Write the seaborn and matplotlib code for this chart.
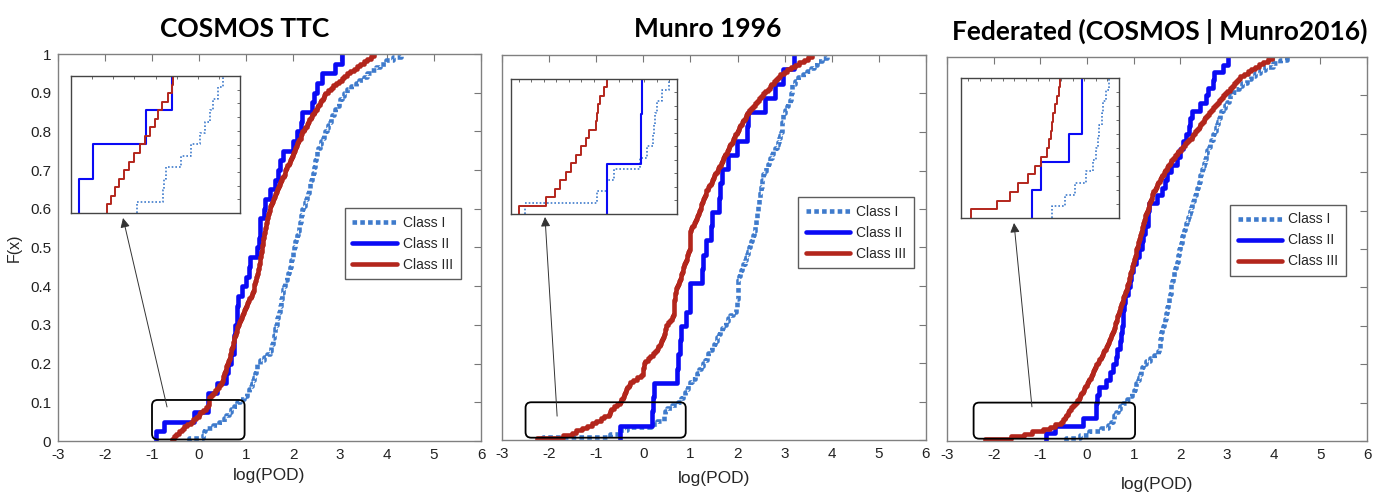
import numpy as np
import matplotlib
matplotlib.use("Agg")
import matplotlib.pyplot as plt
import seaborn as sns
from matplotlib.patches import FancyBboxPatch
from matplotlib.ticker import MultipleLocator

# ---------------- data ----------------
titles = ["COSMOS TTC", "Munro 1996", "Federated (COSMOS | Munro2016)"]
class_names = ["Class I", "Class II", "Class III"]
x_label = "log(POD)"
y_label = "F(x)"
x_ticks = [-3, -2, -1, 0, 1, 2, 3, 4, 5, 6]
y_ticks = [0, 0.1, 0.2, 0.3, 0.4, 0.5, 0.6, 0.7, 0.8, 0.9, 1]
y_tick_labels = ["0", "0.1", "0.2", "0.3", "0.4", "0.5", "0.6", "0.7", "0.8", "0.9", "1"]

# log(POD) samples per class (read from the empirical CDFs)
cosmos_class1 = [-0.22, 0.09, 0.1, 0.12, 0.3, 0.42,
                 0.53, 0.58, 0.64, 0.68, 0.74, 0.8,
                 0.88, 0.96, 1.02, 1.07, 1.1, 1.13,
                 1.15, 1.17, 1.19, 1.21, 1.23, 1.24,
                 1.3, 1.38, 1.45, 1.5, 1.53, 1.56,
                 1.57, 1.58, 1.6, 1.61, 1.62, 1.63,
                 1.65, 1.67, 1.69, 1.7, 1.72, 1.73,
                 1.74, 1.75, 1.76, 1.77, 1.79, 1.8,
                 1.82, 1.84, 1.87, 1.89, 1.91, 1.93,
                 1.95, 1.96, 1.98, 1.99, 2.0, 2.02,
                 2.04, 2.05, 2.07, 2.09, 2.1, 2.12,
                 2.13, 2.15, 2.16, 2.17, 2.19, 2.2,
                 2.22, 2.25, 2.27, 2.3, 2.32, 2.34,
                 2.36, 2.37, 2.39, 2.41, 2.42, 2.44,
                 2.45, 2.46, 2.47, 2.48, 2.5, 2.51,
                 2.54, 2.57, 2.6, 2.63, 2.66, 2.69,
                 2.72, 2.75, 2.78, 2.81, 2.84, 2.87,
                 2.9, 2.94, 2.97, 3.01, 3.05, 3.08,
                 3.15, 3.24, 3.33, 3.41, 3.5, 3.58,
                 3.67, 3.77, 3.86, 3.98, 4.12, 4.29]
cosmos_class2 = [-0.91, -0.74, -0.11, 0.19, 0.2, 0.39, 0.58, 0.62, 0.68, 0.74,
                 0.74, 0.76, 0.81, 0.81, 0.82, 0.92, 1.0, 1.06, 1.08, 1.24,
                 1.27, 1.29, 1.3, 1.38, 1.41, 1.5, 1.62, 1.68, 1.72, 1.79,
                 2.0, 2.09, 2.16, 2.2, 2.41, 2.44, 2.51, 2.62, 2.9, 3.05]
cosmos_class3 = [-0.57, -0.53, -0.48, -0.43, -0.37, -0.31, -0.25, -0.18,
                 -0.12, -0.06, -0.01, 0.03, 0.08, 0.15, 0.19, 0.21,
                 0.21, 0.22, 0.25, 0.29, 0.33, 0.38, 0.42, 0.46,
                 0.48, 0.5, 0.52, 0.54, 0.55, 0.57, 0.58, 0.6,
                 0.62, 0.63, 0.65, 0.66, 0.68, 0.69, 0.71, 0.72,
                 0.73, 0.74, 0.75, 0.77, 0.78, 0.8, 0.81, 0.83,
                 0.85, 0.87, 0.9, 0.92, 0.94, 0.96, 0.98, 1.0,
                 1.03, 1.05, 1.07, 1.1, 1.12, 1.14, 1.16, 1.17,
                 1.18, 1.2, 1.21, 1.22, 1.23, 1.25, 1.26, 1.27,
                 1.28, 1.29, 1.3, 1.3, 1.31, 1.32, 1.33, 1.34,
                 1.35, 1.36, 1.37, 1.37, 1.38, 1.39, 1.4, 1.41,
                 1.42, 1.43, 1.44, 1.45, 1.46, 1.47, 1.49, 1.5,
                 1.52, 1.54, 1.56, 1.58, 1.6, 1.62, 1.64, 1.66,
                 1.68, 1.7, 1.73, 1.75, 1.77, 1.8, 1.82, 1.84,
                 1.86, 1.88, 1.91, 1.93, 1.95, 1.98, 2.0, 2.02,
                 2.04, 2.07, 2.09, 2.11, 2.13, 2.16, 2.18, 2.2,
                 2.23, 2.26, 2.29, 2.32, 2.35, 2.38, 2.41, 2.44,
                 2.47, 2.5, 2.53, 2.57, 2.6, 2.63, 2.66, 2.69,
                 2.74, 2.8, 2.86, 2.92, 2.98, 3.04, 3.09, 3.15,
                 3.22, 3.29, 3.36, 3.43, 3.5, 3.57, 3.65, 3.72]

munro_class1 = [-2.12, -0.7, -0.5, -0.35, 0.16, 0.3,
                0.43, 0.44, 0.46, 0.5, 0.6, 0.74,
                0.8, 0.85, 0.88, 0.92, 0.95, 0.99,
                1.04, 1.09, 1.14, 1.18, 1.23, 1.27,
                1.31, 1.35, 1.38, 1.42, 1.46, 1.49,
                1.53, 1.56, 1.6, 1.63, 1.67, 1.7,
                1.75, 1.8, 1.85, 1.9, 1.96, 1.98,
                1.99, 1.99, 2.0, 2.0, 2.0, 2.0,
                2.01, 2.02, 2.04, 2.05, 2.07, 2.09,
                2.12, 2.15, 2.18, 2.2, 2.22, 2.24,
                2.26, 2.28, 2.3, 2.32, 2.34, 2.37,
                2.38, 2.39, 2.4, 2.41, 2.42, 2.43,
                2.44, 2.45, 2.46, 2.47, 2.48, 2.49,
                2.5, 2.51, 2.52, 2.53, 2.54, 2.56,
                2.6, 2.64, 2.67, 2.69, 2.73, 2.76,
                2.79, 2.83, 2.86, 2.88, 2.91, 2.93,
                2.94, 2.95, 2.95, 2.96, 2.96, 2.97,
                3.0, 3.04, 3.08, 3.12, 3.13, 3.14,
                3.15, 3.15, 3.16, 3.22, 3.29, 3.38,
                3.47, 3.55, 3.62, 3.68, 3.8, 3.9]
munro_class2 = [-0.5, 0.18, 0.2, 0.22, 0.71, 0.74, 0.78, 0.81, 0.9, 0.98,
                0.99, 1.24, 1.26, 1.34, 1.43, 1.45, 1.6, 1.63, 1.66, 1.8,
                1.98, 2.2, 2.22, 2.58, 2.8, 2.97, 3.19]
munro_class3 = [-2.25, -1.7, -1.52, -1.43, -1.3, -1.2, -1.1, -1.0,
                -0.9, -0.84, -0.72, -0.7, -0.68, -0.63, -0.56, -0.5,
                -0.47, -0.44, -0.41, -0.39, -0.36, -0.34, -0.31, -0.29,
                -0.22, -0.14, -0.05, 0.0, 0.0, 0.0, 0.01, 0.02,
                0.03, 0.1, 0.15, 0.2, 0.24, 0.28, 0.32, 0.35,
                0.37, 0.39, 0.41, 0.43, 0.45, 0.46, 0.48, 0.49,
                0.52, 0.56, 0.6, 0.63, 0.65, 0.65, 0.65, 0.66,
                0.66, 0.66, 0.67, 0.67, 0.68, 0.69, 0.7, 0.72,
                0.74, 0.76, 0.78, 0.8, 0.81, 0.82, 0.84, 0.85,
                0.87, 0.89, 0.9, 0.92, 0.93, 0.95, 0.97, 0.98,
                0.98, 0.98, 0.99, 0.99, 0.99, 1.0, 1.0, 1.01,
                1.04, 1.07, 1.1, 1.12, 1.14, 1.16, 1.18, 1.2,
                1.22, 1.23, 1.25, 1.27, 1.29, 1.3, 1.32, 1.34,
                1.37, 1.4, 1.43, 1.45, 1.48, 1.51, 1.53, 1.56,
                1.59, 1.61, 1.64, 1.66, 1.69, 1.72, 1.74, 1.77,
                1.8, 1.82, 1.85, 1.88, 1.9, 1.93, 1.95, 1.98,
                2.0, 2.03, 2.06, 2.09, 2.12, 2.15, 2.17, 2.2,
                2.25, 2.29, 2.33, 2.38, 2.42, 2.46, 2.5, 2.55,
                2.59, 2.64, 2.68, 2.72, 2.77, 2.81, 2.86, 2.9,
                2.98, 3.06, 3.14, 3.22, 3.3, 3.4, 3.49, 3.58]

fed_class1 = [-0.45, -0.16, 0.05, 0.3, 0.44, 0.51,
              0.55, 0.58, 0.63, 0.66, 0.71, 0.78,
              0.86, 0.92, 0.96, 1.0, 1.03, 1.06,
              1.09, 1.12, 1.14, 1.16, 1.18, 1.2,
              1.27, 1.35, 1.44, 1.53, 1.55, 1.56,
              1.56, 1.57, 1.58, 1.59, 1.61, 1.63,
              1.65, 1.67, 1.69, 1.7, 1.71, 1.72,
              1.74, 1.75, 1.76, 1.77, 1.79, 1.8,
              1.81, 1.83, 1.84, 1.86, 1.87, 1.89,
              1.91, 1.92, 1.94, 1.95, 1.97, 1.98,
              1.99, 2.01, 2.03, 2.04, 2.06, 2.08,
              2.1, 2.12, 2.14, 2.16, 2.18, 2.2,
              2.22, 2.24, 2.27, 2.29, 2.31, 2.34,
              2.36, 2.38, 2.4, 2.42, 2.43, 2.45,
              2.47, 2.48, 2.5, 2.52, 2.54, 2.56,
              2.58, 2.61, 2.64, 2.66, 2.69, 2.71,
              2.73, 2.76, 2.78, 2.8, 2.82, 2.84,
              2.88, 2.92, 2.96, 3.0, 3.04, 3.07,
              3.13, 3.19, 3.25, 3.32, 3.42, 3.52,
              3.6, 3.7, 3.82, 3.98, 4.14, 4.28]
fed_class2 = [-0.88, -0.68, -0.08, 0.2, 0.2, 0.22, 0.25, 0.4, 0.5, 0.55,
              0.63, 0.65, 0.7, 0.72, 0.75, 0.77, 0.78, 0.8, 0.82, 0.88,
              0.92, 0.95, 0.98, 1.06, 1.12, 1.18, 1.2, 1.25, 1.3, 1.31,
              1.33, 1.5, 1.6, 1.68, 1.71, 1.8, 1.92, 2.0, 2.06, 2.12,
              2.18, 2.2, 2.25, 2.42, 2.56, 2.6, 2.7, 2.72, 2.92, 3.03]
fed_class3 = [-2.19, -1.62, -1.35, -1.18, -0.95, -0.8, -0.68, -0.56,
              -0.51, -0.47, -0.44, -0.41, -0.38, -0.34, -0.3, -0.26,
              -0.22, -0.18, -0.15, -0.12, -0.09, -0.06, -0.04, -0.01,
              0.02, 0.05, 0.08, 0.1, 0.13, 0.15, 0.18, 0.2,
              0.23, 0.26, 0.29, 0.32, 0.35, 0.37, 0.4, 0.42,
              0.44, 0.47, 0.49, 0.51, 0.54, 0.56, 0.58, 0.6,
              0.61, 0.63, 0.64, 0.65, 0.67, 0.68, 0.7, 0.71,
              0.73, 0.75, 0.77, 0.78, 0.8, 0.82, 0.84, 0.85,
              0.86, 0.88, 0.89, 0.9, 0.92, 0.93, 0.95, 0.96,
              0.97, 0.99, 1.0, 1.01, 1.03, 1.04, 1.05, 1.06,
              1.07, 1.09, 1.1, 1.11, 1.13, 1.14, 1.16, 1.17,
              1.18, 1.2, 1.21, 1.22, 1.24, 1.25, 1.27, 1.28,
              1.3, 1.32, 1.33, 1.35, 1.37, 1.39, 1.4, 1.42,
              1.45, 1.48, 1.51, 1.53, 1.56, 1.59, 1.61, 1.64,
              1.67, 1.71, 1.74, 1.78, 1.81, 1.85, 1.88, 1.92,
              1.96, 2.01, 2.06, 2.1, 2.15, 2.19, 2.24, 2.28,
              2.32, 2.35, 2.39, 2.42, 2.46, 2.5, 2.53, 2.57,
              2.61, 2.66, 2.7, 2.75, 2.79, 2.83, 2.88, 2.92,
              2.96, 3.01, 3.06, 3.1, 3.15, 3.19, 3.24, 3.28,
              3.36, 3.44, 3.52, 3.6, 3.68, 3.78, 3.87, 3.96]

# zoom windows (x0, x1) shown in insets; y window 0..0.1
zoom_x = [(-1.0, 1.0), (-2.4, 0.9), (-2.4, 1.0)]
zoom_y = (0.0, 0.1)

panels = [
    (cosmos_class1, cosmos_class2, cosmos_class3),
    (munro_class1, munro_class2, munro_class3),
    (fed_class1, fed_class2, fed_class3),
]

# ---------------- styling ----------------
sns.set_style("white")
plt.rcParams["font.family"] = ["Liberation Sans", "DejaVu Sans"]

colors = ["#3f7bcc", "#0a0af5", "#b3261c"]
main_styles = [dict(lw=3.3, ls=(0, (1, 0.7))), dict(lw=3.3, ls="-"), dict(lw=3.3, ls="-")]
inset_styles = [dict(lw=1.2, ls=(0, (1, 1.2))), dict(lw=1.5, ls="-"), dict(lw=1.4, ls="-")]

W, H = 1391, 494
def fr(x0, y0, x1, y1):
    return [x0 / W, 1 - y1 / H, (x1 - x0) / W, (y1 - y0) / H]

main_rects = [fr(58, 54, 481, 441), fr(502, 55, 926, 440), fr(947, 57, 1367, 441)]
inset_rects = [fr(71, 76, 240, 213), fr(511, 79, 677, 214), fr(961, 78, 1119, 218)]
title_pos = [(0.442, 1.065), (0.486, 1.068), (0.507, 1.068)]
legend_anchor = [(0.678, 0.602), (0.698, 0.631), (0.674, 0.615)]
xlabel_pad = [4, 7, 11]
box_rects = [(-1.0, 0.004, 1.97, 0.102), (-2.5, 0.006, 3.4, 0.092), (-2.43, 0.006, 3.46, 0.094)]
arrow_tail = [(-0.68, 0.088), (-1.83, 0.062), (-1.18, 0.089)]
arrow_head = [(123 / W, 1 - 218 / H), (545 / W, 1 - 217 / H), (1014 / W, 1 - 223 / H)]

fig = plt.figure(figsize=(13.91, 4.94), dpi=100)


def draw_ecdf(ax, vals, color, style, label=None):
    sns.ecdfplot(x=vals, ax=ax, color=color, label=label, **style)
    line = ax.lines[-1]
    xd = np.asarray(line.get_xdata(), dtype=float).copy()
    xd[0] = xd[1]  # start the step at the first sample instead of -inf
    line.set_xdata(xd)
    if isinstance(style["ls"], tuple):
        line.set_dash_capstyle("butt")


for p, series in enumerate(panels):
    ax = fig.add_axes(main_rects[p])
    for c, vals in enumerate(series):
        draw_ecdf(ax, vals, colors[c], main_styles[c], label=class_names[c])
    ax.set_xlim(x_ticks[0], x_ticks[-1])
    ax.set_ylim(0, 1)
    ax.set_xticks(x_ticks)
    ax.set_xticklabels([str(t) for t in x_ticks])
    ax.set_yticks(y_ticks)
    if p == 0:
        ax.set_yticklabels(y_tick_labels)
        ax.set_ylabel(y_label, fontsize=11.5, labelpad=6)
    else:
        ax.set_yticklabels([])
        ax.set_ylabel("")
    ax.set_xlabel(x_label, fontsize=12.5, labelpad=xlabel_pad[p])
    ax.tick_params(direction="in", top=True, right=True, length=5, width=0.8,
                   color="#777777", labelsize=11, pad=5, labelcolor="#222222")
    for s in ax.spines.values():
        s.set_color("#808080")
        s.set_linewidth(1.0)
    ax.text(*title_pos[p], titles[p], transform=ax.transAxes, ha="center", va="center",
            fontsize=19, fontweight="bold", family=["Lato", "DejaVu Sans"], color="black")
    leg = ax.legend(loc="upper left", bbox_to_anchor=legend_anchor[p], borderaxespad=0,
                    fontsize=10, handlelength=3.2, handletextpad=0.45, borderpad=0.55,
                    fancybox=False, frameon=True, labelspacing=0.5)
    leg.get_frame().set_edgecolor("#333333")
    leg.get_frame().set_linewidth(1.0)

    bx, by, bw, bh = box_rects[p]
    ax.add_patch(FancyBboxPatch((bx, by), bw, bh, boxstyle="round,pad=0,rounding_size=0.12",
                                mutation_aspect=0.12, fill=False, ec="black", lw=1.3, zorder=5))
    ax.annotate("", xy=arrow_head[p], xycoords="figure fraction",
                xytext=arrow_tail[p], textcoords="data",
                arrowprops=dict(arrowstyle="-|>", color="#333333", lw=0.7,
                                mutation_scale=14, shrinkA=0, shrinkB=0), zorder=6)

    ins = fig.add_axes(inset_rects[p])
    for c, vals in enumerate(series):
        draw_ecdf(ins, vals, colors[c], inset_styles[c])
    ins.set_xlim(*zoom_x[p])
    ins.set_ylim(*zoom_y)
    ins.xaxis.set_major_locator(MultipleLocator(0.25))
    ins.yaxis.set_major_locator(MultipleLocator(0.01))
    ins.set_xticklabels([])
    ins.set_yticklabels([])
    ins.set_xlabel("")
    ins.set_ylabel("")
    ins.tick_params(direction="in", top=True, right=True, length=2.5, width=0.6, color="#555555")
    for s in ins.spines.values():
        s.set_color("#444444")
        s.set_linewidth(1.0)

fig.savefig("out.png", dpi=100)
